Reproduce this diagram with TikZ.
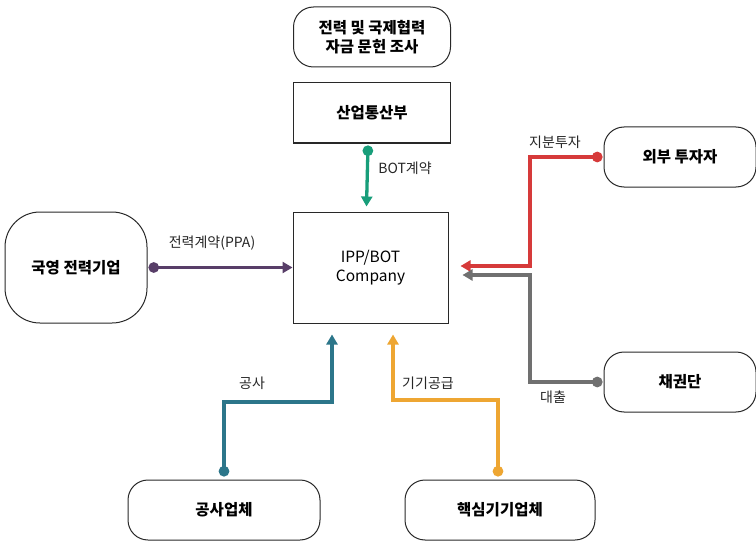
\documentclass[tikz,border=0pt]{standalone}
\usepackage{fontspec}
\setmainfont{Noto Sans CJK KR}
\usetikzlibrary{arrows.meta}
\definecolor{cpur}{RGB}{88,62,104}
\definecolor{cgrn}{RGB}{24,158,122}
\definecolor{cred}{RGB}{214,58,58}
\definecolor{cgry}{RGB}{112,112,112}
\definecolor{cteal}{RGB}{44,118,138}
\definecolor{corg}{RGB}{238,166,50}
\definecolor{cbord}{RGB}{40,40,40}
\tikzset{
  box/.style={draw=cbord, line width=1pt, inner sep=2pt, align=center, font=\fontsize{15.5}{19}\selectfont\bfseries},
  rbox/.style={box, rounded corners=20pt},
  lbl/.style={font=\fontsize{14}{16}\selectfont, text=black!85, inner sep=1pt},
  conn/.style={line width=3.3pt, {Circle[length=10.5pt]}-{Triangle[length=10pt,width=11pt]}, line join=miter},
}
\begin{document}
\begin{tikzpicture}[x=1pt,y=-1pt]
\useasboundingbox[fill=white] (0,0) rectangle (756,543);
\node[rbox, minimum width=157, minimum height=60] (top) at (372,37) {전력 및 국제협력\\자금 문헌 조사};
\node[box, minimum width=157, minimum height=60] (mot) at (372,113) {산업통산부};
\node[box, minimum width=155, minimum height=111, font=\fontsize{15.5}{19}\selectfont] (ipp) at (370.5,267.5) {IPP/BOT\\Company};
\node[box, rounded corners=35pt, minimum width=142, minimum height=111] (kep) at (76,267.5) {국영 전력기업};
\node[rbox, minimum width=152, minimum height=60] (inv) at (680,157) {외부 투자자};
\node[rbox, minimum width=152, minimum height=60] (bank) at (680,382) {채권단};
\node[rbox, minimum width=192, minimum height=60] (con) at (224,510) {공사업체};
\node[rbox, minimum width=190, minimum height=60] (eq) at (500,510) {핵심기기업체};

\draw[conn, cgrn] ([xshift=-4pt,yshift=-2pt]mot.south) -- ([xshift=-4pt,yshift=5pt]ipp.north);
\draw[conn, cpur] ([xshift=1pt]kep.east) -- (ipp.west);
\draw[conn, cred] ([xshift=-1pt]inv.west) -- (530,157) -- (530,266) -- ([xshift=12pt,yshift=1.5pt]ipp.east);
\draw[conn, cgry] ([xshift=-1pt]bank.west) -- (530,382) -- (530,275) -- ([xshift=14pt,yshift=-7.5pt]ipp.east);
\draw[conn, cteal] ([yshift=3pt]con.north) -- (224,402) -- (332,402) -- ([xshift=-38.5pt,yshift=-11pt]ipp.south);
\draw[conn, corg] ([xshift=-2pt,yshift=3pt]eq.north) -- (498,400) -- (393,400) -- ([xshift=22.5pt,yshift=-11pt]ipp.south);

\node[lbl] (l1) at (405,168) {BOT계약};
\node[lbl] (l2) at (212,243) {전력계약(PPA)};
\node[lbl] (l3) at (555,142) {지분투자};
\node[lbl] (l4) at (553,397) {대출};
\node[lbl] (l5) at (252,383) {공사};
\node[lbl] (l6) at (428,383) {기기공급};
\end{tikzpicture}
\end{document}
